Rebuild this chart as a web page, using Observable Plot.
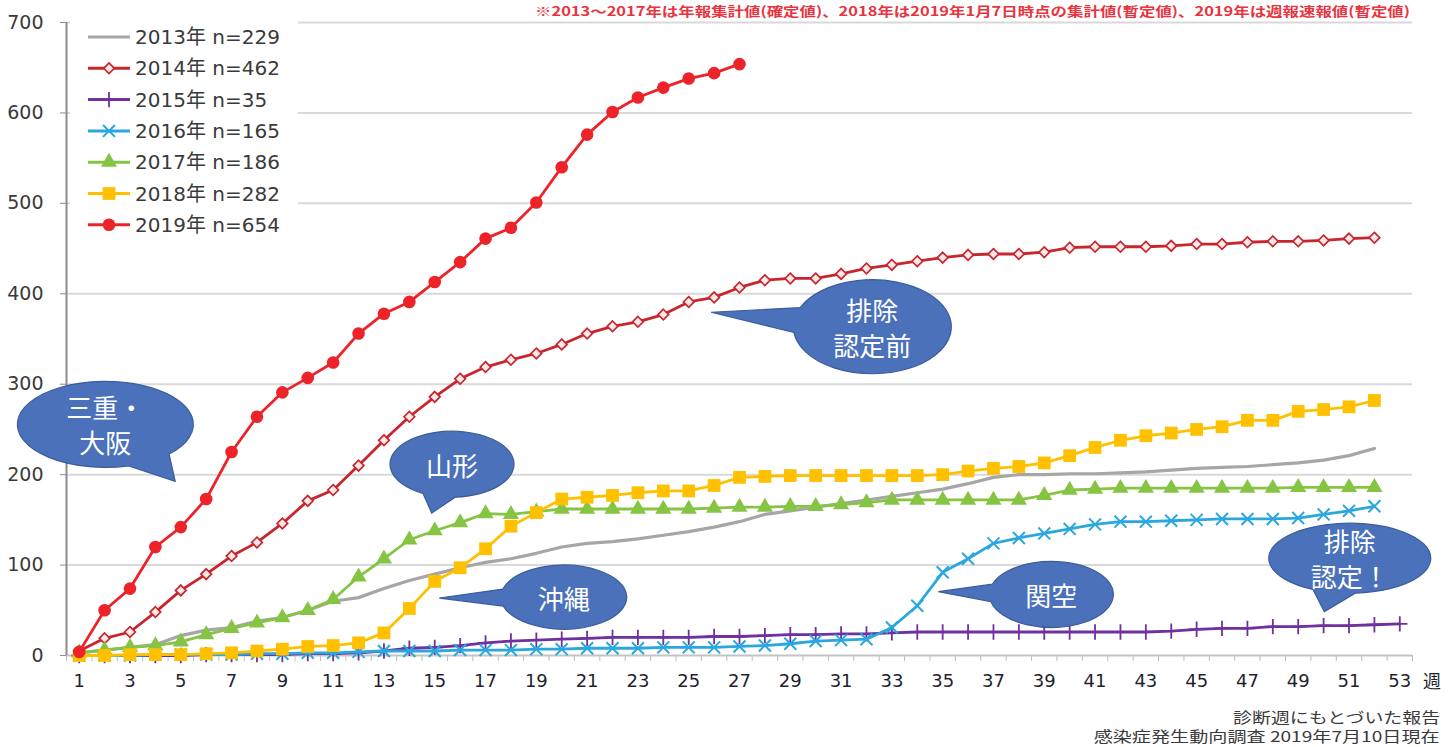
<!DOCTYPE html>
<html lang="ja"><head><meta charset="utf-8">
<script src="https://cdn.jsdelivr.net/npm/d3@7"></script>
<script src="https://cdn.jsdelivr.net/npm/@observablehq/plot@0.6"></script>
<style>
html,body{margin:0;padding:0;background:#fff;}
#wrap{position:relative;width:1455px;height:747px;overflow:hidden;font-family:"DejaVu Sans","Noto Sans CJK JP",sans-serif;}
.abs{position:absolute;white-space:nowrap;}
</style></head><body><div id="wrap"></div>
<script>
// ---------- data ----------
const years = ["2013", "2014", "2015", "2016", "2017", "2018", "2019"];
const totals = [229, 462, 35, 165, 186, 282, 654];
const v2013 = [3,6,9,12,22,28,31,38,42,50,60,64,74,83,90,97,103,107,113,120,124,126,129,133,137,142,148,156,160,164,168,172,176,180,184,190,197,200,200,201,201,202,203,205,207,208,209,211,213,216,221,229];
const v2014 = [5,19,26,48,72,90,110,125,146,171,183,210,238,264,286,306,319,327,334,344,356,364,369,377,391,396,407,415,417,417,422,428,432,436,440,443,444,444,446,451,452,452,452,453,455,455,457,458,458,459,461,462];
const v2015 = [0,0,0,0,0,1,1,1,1,2,2,3,5,8,9,11,14,16,17,18,19,20,20,20,20,21,21,22,23,23,24,24,25,26,26,26,26,26,26,26,26,26,26,27,29,30,30,32,32,33,33,34,35];
const v2016 = [0,0,0,1,1,1,1,2,2,3,3,4,5,5,5,6,6,6,7,7,8,8,8,9,9,9,10,11,13,16,17,18,31,55,92,107,124,130,135,140,145,148,148,149,150,151,151,151,152,156,160,165];
const v2017 = [3,6,9,11,15,23,30,36,42,50,62,87,107,128,138,147,157,156,159,162,162,162,162,162,162,163,164,164,165,165,167,169,172,172,172,172,172,172,177,183,184,185,185,185,185,185,185,185,186,186,186,186];
const v2018 = [0,0,1,1,1,2,3,5,7,10,11,14,25,52,82,97,118,143,158,173,175,177,180,182,182,188,197,198,199,199,199,199,199,199,200,204,207,209,213,221,230,238,243,246,250,253,260,260,270,272,275,282];
const v2019 = [4,50,74,120,142,173,225,264,291,307,324,356,378,391,413,435,461,473,501,540,576,601,617,628,638,644,654];
const seriesValues = [v2013, v2014, v2015, v2016, v2017, v2018, v2019];

const yTicks = [0, 100, 200, 300, 400, 500, 600, 700];
const xTickLabels = [1,3,5,7,9,11,13,15,17,19,21,23,25,27,29,31,33,35,37,39,41,43,45,47,49,51,53];
const xUnit = "週";
const noteText = "※2013～2017年は年報集計値(確定値)、2018年は2019年1月7日時点の集計値(暫定値)、2019年は週報速報値(暫定値)";
const sourceLines = ["診断週にもとづいた報告", "感染症発生動向調査 2019年7月10日現在"];

// callouts: text lines, bubble centre and tail tip in data units (week, count)
const calloutLines = [["三重・", "大阪"], ["山形"], ["沖縄"], ["排除", "認定前"], ["関空"], ["排除", "認定！"]];
const calloutCenter = [[2.05, 255], [15.7, 211], [20.1, 64], [32.25, 363], [39.3, 67], [51.05, 107]];
const calloutTip = [[4.8, 192], [14.9, 157], [15.2, 63], [25.9, 379], [34.85, 70], [50.05, 48]];

// ---------- build ----------
const rows = [];
years.forEach((yr, i) => seriesValues[i].forEach((v, k) => rows.push({year: yr, week: k + 1, value: v})));

const style = {
  "2013": {color: "#a6a6a6", symbol: null},
  "2014": {color: "#c8262c", symbol: "diamond2", r: 4.8, fill: "#fbe9e9", sw: 1.7},
  "2015": {color: "#7030a0", symbol: "plus", r: 5, fill: "none", sw: 1.8},
  "2016": {color: "#2aa7df", symbol: "times", r: 5.5, fill: "none", sw: 2},
  "2017": {color: "#86c443", symbol: "triangle", r: 6, fill: "#86c443", sw: 0},
  "2018": {color: "#ffc000", symbol: "square", r: 7.2, fill: "#ffc000", sw: 0},
  "2019": {color: "#ec2329", symbol: "circle", r: 6.3, fill: "#ec2329", sw: 0}
};

const bubbleSize = [[88, 43], [62, 33], [63, 32], [79, 47], [62, 33], [81, 35]];

function callouts(index, scales) {
  const {x, y} = scales;
  const g = d3.create("svg:g");
  calloutLines.forEach((lines, i) => {
    const [rx, ry] = bubbleSize[i];
    const cx = x(calloutCenter[i][0]), cy = y(calloutCenter[i][1]);
    const tx = x(calloutTip[i][0]), ty = y(calloutTip[i][1]);
    const th = Math.atan2((ty - cy) / ry, (tx - cx) / rx);
    const d = 0.27;
    const p1 = [cx + rx * Math.cos(th - d), cy + ry * Math.sin(th - d)];
    const p2 = [cx + rx * Math.cos(th + d), cy + ry * Math.sin(th + d)];
    g.append("path")
      .attr("d", `M${p2[0]},${p2[1]}L${tx},${ty}L${p1[0]},${p1[1]}A${rx},${ry} 0 1 0 ${p2[0]},${p2[1]}Z`)
      .attr("fill", "#4a71b9").attr("stroke", "#3b5c9c").attr("stroke-width", 1.2);
    const n = lines.length, lh = 35;
    lines.forEach((t, j) => {
      g.append("text").text(t)
        .attr("x", cx).attr("y", cy + (j - (n - 1) / 2) * lh)
        .attr("text-anchor", "middle").attr("dominant-baseline", "central")
        .attr("fill", "#fff").attr("font-size", 26)
        .attr("font-family", "'Noto Sans CJK JP', sans-serif");
    });
  });
  return g.node();
}

const boundaries = d3.range(0.5, 54, 1);

const seriesMarks = years.flatMap(yr => {
  const s = style[yr];
  const data = rows.filter(d => d.year === yr);
  const m = [Plot.line(data, {x: "week", y: "value", stroke: s.color, strokeWidth: yr === "2013" ? 3.2 : 2.8, curve: "linear"})];
  if (s.symbol) m.push(Plot.dot(data, {x: "week", y: "value", symbol: s.symbol, r: s.r, fill: s.fill, stroke: s.sw ? s.color : "none", strokeWidth: s.sw}));
  return m;
});

const chart = Plot.plot({
  width: 1455, height: 700,
  marginLeft: 66, marginRight: 43, marginTop: 22, marginBottom: 45,
  x: {domain: [0.5, 53.5], label: null},
  y: {domain: [0, 700], label: null},
  style: {fontFamily: "'DejaVu Sans','Noto Sans CJK JP',sans-serif", background: "transparent", overflow: "visible"},
  marks: [
    Plot.gridY(yTicks.filter(d => d > 0), {stroke: "#d9d9d9", strokeOpacity: 1, strokeWidth: 2}),
    Plot.ruleY([0], {stroke: "#c4c4c4", strokeWidth: 2}),
    Plot.axisX(boundaries, {tickSize: 6, tickFormat: () => "", stroke: "#bdbdbd", label: null}),
    Plot.axisX(xTickLabels, {tickSize: 0, tickPadding: 19, fontSize: 18, color: "#1f1f2e", label: null}),
    Plot.axisY(yTicks, {tickSize: 6, tickPadding: 17, fontSize: 19, color: "#3a3a3a", stroke: "#8c8c8c", label: null}),
    Plot.ruleX([0.5], {stroke: "#8c8c8c", strokeWidth: 2}),
    ...seriesMarks,
    callouts
  ]
});
chart.style.position = "absolute";
chart.style.left = "0px";
chart.style.top = "0px";
const wrap = document.getElementById("wrap");
wrap.appendChild(chart);

// ---------- legend (inside plot area) ----------
const symType = {circle: d3.symbolCircle, square: d3.symbolSquare, triangle: d3.symbolTriangle, diamond2: d3.symbolDiamond2, plus: d3.symbolPlus, times: d3.symbolTimes};
const lg = d3.select(wrap).append("div").attr("class", "abs")
  .style("left", "70px").style("top", "16px").style("width", "228px").style("height", "232px").style("background", "#fff");
const lsvg = lg.append("svg").attr("width", 228).attr("height", 232);
years.forEach((yr, i) => {
  const s = style[yr];
  const cy = 21 + i * 31.3;
  lsvg.append("line").attr("x1", 18).attr("x2", 60).attr("y1", cy).attr("y2", cy)
    .attr("stroke", s.color).attr("stroke-width", 3);
  if (s.symbol) {
    lsvg.append("path").attr("transform", `translate(39,${cy})`)
      .attr("d", d3.symbol(symType[s.symbol], Math.PI * s.r * s.r)())
      .attr("fill", s.fill).attr("stroke", s.sw ? s.color : "none").attr("stroke-width", s.sw);
  }
  lsvg.append("text").attr("x", 65).attr("y", cy).attr("dominant-baseline", "central")
    .attr("font-size", 20).attr("fill", "#3a3a3a")
    .attr("font-family", "'DejaVu Sans','Noto Sans CJK JP',sans-serif")
    .text(`${yr}年 n=${totals[i]}`);
});

// ---------- texts ----------
function fitText(el, width) {
  const w = el.getBoundingClientRect().width;
  el.style.transformOrigin = el.dataset.origin || "left top";
  el.style.transform = `scaleX(${width / w})`;
}
const unit = d3.select(wrap).append("div").attr("class", "abs").text(xUnit)
  .style("left", "1423px").style("top", "667px").style("font-size", "18px").style("color", "#1f1f2e");

const note = d3.select(wrap).append("div").attr("class", "abs").text(noteText)
  .style("left", "535px").style("top", "3px").style("font-size", "13px").style("font-weight", "bold")
  .style("color", "#e8343f").style("font-family", "'Noto Sans CJK JP',sans-serif").style("line-height", "16px");
fitText(note.node(), 875);

sourceLines.forEach((t, i) => {
  const el = d3.select(wrap).append("div").attr("class", "abs").text(t)
    .style("right", "15px").style("top", (707 + i * 19) + "px").style("font-size", "15px")
    .style("line-height", "19px").style("color", "#3a3a3a").style("font-family", "'Noto Sans CJK JP',sans-serif")
    .attr("data-origin", "right top");
  fitText(el.node(), i === 0 ? 207 : 346);
});
</script></body></html>
